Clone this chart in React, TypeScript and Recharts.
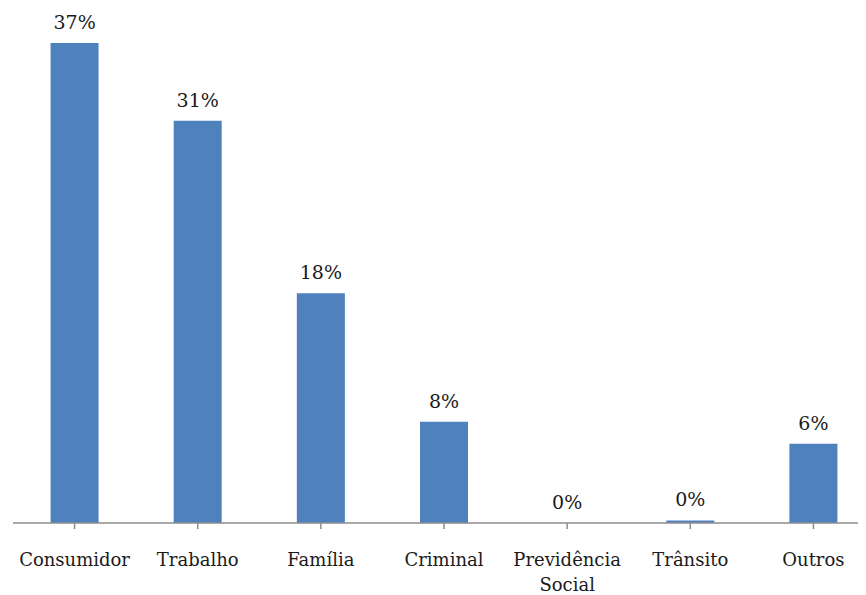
import React from "react";
import { ComposedChart, Bar, Line, XAxis, YAxis, LabelList } from "recharts";

// Share of cases by subject area (percent)
const categories = [
  "Consumidor",
  "Trabalho",
  "Família",
  "Criminal",
  "Previdência Social",
  "Trânsito",
  "Outros",
];
const shares = [37, 31, 17.7, 7.8, 0, 0.2, 6.1];

const chartData = categories.map((name, i) => ({ name, value: shares[i] }));

const FONT = "'DejaVu Serif', serif";
const BAR_COLOR = "#4F81BD";
const AXIS_COLOR = "#8C8C8C";
const TEXT_COLOR = "#1a1a1a";

// Category labels: multi-word names are stacked one word per line
const CategoryTick = (props: any) => {
  const { x, y, payload } = props;
  const words = String(payload.value).split(" ");
  return (
    <text
      x={x}
      y={y + 35}
      textAnchor="middle"
      fontFamily={FONT}
      fontSize={18}
      fill={TEXT_COLOR}
    >
      {words.map((w, i) => (
        <tspan key={i} x={x} dy={i === 0 ? 0 : 25}>
          {w}
        </tspan>
      ))}
    </text>
  );
};

// Percentage above each bar top (also for zero-height bars)
const PercentLabel = (props: any) => {
  const { x, y, value } = props;
  return (
    <text
      x={Number(x)}
      y={Number(y) - 14}
      textAnchor="middle"
      fontFamily={FONT}
      fontSize={19}
      fill={TEXT_COLOR}
    >
      {`${Math.round(Number(value))}%`}
    </text>
  );
};

export default function App() {
  return (
    <div style={{ width: 858, height: 587, overflow: "hidden" }}>
      <ComposedChart
        width={867}
        height={587}
        data={chartData}
        margin={{ top: 22, right: 0, left: 5, bottom: 0 }}
        barCategoryGap="30.5%"
      >
        <XAxis
          dataKey="name"
          interval={0}
          height={72}
          axisLine={{ stroke: AXIS_COLOR, strokeWidth: 1.5 }}
          tickLine={{ stroke: AXIS_COLOR, strokeWidth: 1.5 }}
          tickSize={6}
          tick={<CategoryTick />}
        />
        <YAxis hide domain={[0, 38]} />
        <Bar dataKey="value" fill={BAR_COLOR} isAnimationActive={false} />
        {/* invisible series at the bar tops that carries the value labels */}
        <Line
          dataKey="value"
          stroke="none"
          dot={false}
          activeDot={false}
          legendType="none"
          isAnimationActive={false}
        >
          <LabelList dataKey="value" content={<PercentLabel />} />
        </Line>
      </ComposedChart>
    </div>
  );
}
